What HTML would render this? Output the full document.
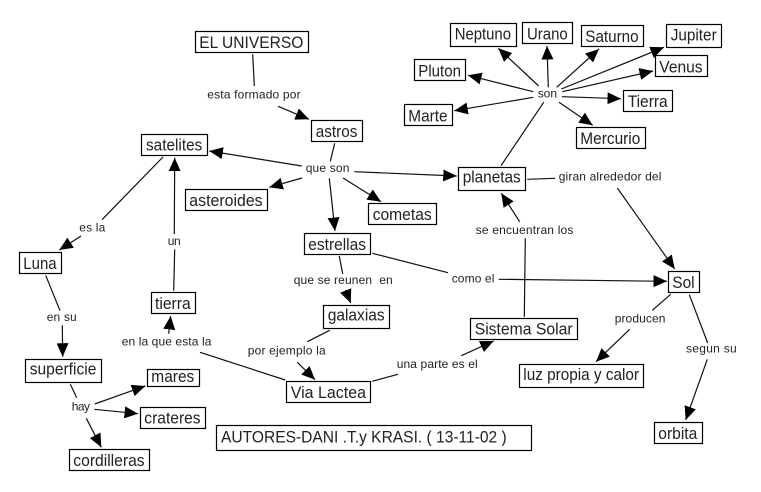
<!DOCTYPE html>
<html><head><meta charset="utf-8"><style>
html,body{margin:0;padding:0;background:#fff}
svg{display:block}
text{font-family:"Liberation Sans",sans-serif}
.b text{font-size:17px;fill:#222}
.l text{font-size:12px;fill:#222}
.r rect{fill:#fff;stroke:#000;stroke-width:1.2}
.c line{stroke:#111;stroke-width:1.2}
.a line{marker-end:url(#h)}
</style></head><body>
<svg width="761" height="492" viewBox="0 0 761 492" xmlns="http://www.w3.org/2000/svg">
<defs><marker id="h" markerUnits="userSpaceOnUse" markerWidth="15" markerHeight="13" refX="13.5" refY="6" orient="auto"><path d="M0 0L13.5 6L0 12Z" fill="#000"/></marker></defs>
<g class="c">
<line x1="252.7" y1="54.3" x2="254.3" y2="86"/>
<line x1="334.7" y1="143.3" x2="330.3" y2="161.3"/>
<line x1="501" y1="165.7" x2="543.7" y2="102.3"/>
<line x1="527.3" y1="179.3" x2="555" y2="178.3"/>
<line x1="163" y1="157" x2="102" y2="219.7"/>
<line x1="173.7" y1="290.7" x2="174.7" y2="249.3"/>
<line x1="45.7" y1="275.3" x2="60" y2="310.7"/>
<line x1="70.3" y1="384.3" x2="76.7" y2="397.7"/>
<line x1="285.3" y1="380" x2="200" y2="352.3"/>
<line x1="339.3" y1="256" x2="342.7" y2="274"/>
<line x1="329.7" y1="330.3" x2="307.3" y2="341.7"/>
<line x1="372.3" y1="381.3" x2="398" y2="374.3"/>
<line x1="372.3" y1="253.3" x2="448" y2="272.7"/>
<line x1="524.3" y1="317" x2="525.3" y2="238.3"/>
<line x1="670.7" y1="294.3" x2="652.3" y2="310.3"/>
<line x1="689.3" y1="294.7" x2="707.7" y2="343"/>
</g>
<g class="c a">
<line x1="278" y1="106.3" x2="309" y2="119.3"/>
<line x1="301.7" y1="166" x2="209.3" y2="151"/>
<line x1="302" y1="178" x2="269.3" y2="187.3"/>
<line x1="354.3" y1="171.7" x2="456.7" y2="176"/>
<line x1="329.3" y1="178.3" x2="335" y2="231"/>
<line x1="343" y1="178" x2="381" y2="201.7"/>
<line x1="538.7" y1="86" x2="498.3" y2="48.3"/>
<line x1="548.3" y1="87.3" x2="547" y2="46"/>
<line x1="556.7" y1="87.3" x2="599" y2="49"/>
<line x1="561.3" y1="89" x2="664" y2="47.3"/>
<line x1="562.3" y1="91.7" x2="653" y2="71"/>
<line x1="562" y1="96.7" x2="621" y2="98.7"/>
<line x1="559" y1="102.3" x2="592.7" y2="125.3"/>
<line x1="533.3" y1="91.7" x2="468" y2="75.3"/>
<line x1="533.3" y1="97.3" x2="454.3" y2="110.7"/>
<line x1="617.3" y1="188" x2="674.7" y2="269"/>
<line x1="81" y1="236" x2="59.3" y2="250"/>
<line x1="174.3" y1="234" x2="174.7" y2="157.7"/>
<line x1="62.3" y1="325.3" x2="62.7" y2="356.7"/>
<line x1="94.7" y1="404" x2="145.3" y2="386"/>
<line x1="94.3" y1="409.3" x2="138" y2="413.7"/>
<line x1="86.3" y1="418.3" x2="101.3" y2="447.3"/>
<line x1="168.7" y1="333.7" x2="170.7" y2="316"/>
<line x1="345.5" y1="290" x2="350.7" y2="303"/>
<line x1="297.3" y1="362.3" x2="315" y2="379.7"/>
<line x1="461.3" y1="355.7" x2="493.7" y2="341"/>
<line x1="498.7" y1="279.3" x2="667" y2="281.3"/>
<line x1="519.7" y1="221.7" x2="501.3" y2="193.3"/>
<line x1="629.7" y1="329.3" x2="596" y2="361.7"/>
<line x1="707.3" y1="359.3" x2="685.7" y2="420"/>
</g>
<g class="r">
<rect x="195.5" y="31.5" width="113" height="21"/>
<rect x="311.5" y="120.5" width="51" height="21"/>
<rect x="414.5" y="59.5" width="51" height="21"/>
<rect x="404.5" y="104.5" width="48" height="21"/>
<rect x="450.5" y="23.5" width="66" height="23"/>
<rect x="522.5" y="22.5" width="50" height="21"/>
<rect x="581.5" y="25.5" width="62" height="21"/>
<rect x="666.5" y="24.5" width="55" height="23"/>
<rect x="655.5" y="55.5" width="52" height="21"/>
<rect x="623.5" y="90.5" width="49" height="21"/>
<rect x="576.5" y="127.5" width="69" height="21"/>
<rect x="458.5" y="167.5" width="67" height="23"/>
<rect x="141.5" y="134.5" width="66" height="21"/>
<rect x="185.5" y="189.5" width="82" height="21"/>
<rect x="368.5" y="203.5" width="68" height="21"/>
<rect x="304.5" y="233.5" width="66" height="21"/>
<rect x="323.5" y="305.5" width="66" height="23"/>
<rect x="286.5" y="381.5" width="84" height="21"/>
<rect x="470.5" y="318.5" width="107" height="21"/>
<rect x="668.5" y="271.5" width="31" height="21"/>
<rect x="519.5" y="364.5" width="124" height="23"/>
<rect x="654.5" y="422.5" width="48" height="21"/>
<rect x="19.5" y="252.5" width="42" height="21"/>
<rect x="151.5" y="292.5" width="44" height="21"/>
<rect x="25.5" y="359.5" width="76" height="23"/>
<rect x="147.5" y="369.5" width="52" height="17"/>
<rect x="140.5" y="407.5" width="65" height="21"/>
<rect x="69.5" y="449.5" width="80" height="21"/>
<rect x="216.5" y="425.5" width="315" height="25"/>
</g>
<g class="b">
<text x="199.3" y="48" textLength="104" lengthAdjust="spacingAndGlyphs">EL UNIVERSO</text>
<text x="315.7" y="137" textLength="41.7" lengthAdjust="spacingAndGlyphs">astros</text>
<text x="418.3" y="76.5" textLength="42.7" lengthAdjust="spacingAndGlyphs">Pluton</text>
<text x="408.3" y="121.3" textLength="39.3" lengthAdjust="spacingAndGlyphs">Marte</text>
<text x="454.7" y="39.3" textLength="56.3" lengthAdjust="spacingAndGlyphs">Neptuno</text>
<text x="527" y="39.3" textLength="40.7" lengthAdjust="spacingAndGlyphs">Urano</text>
<text x="585.3" y="42" textLength="53.3" lengthAdjust="spacingAndGlyphs">Saturno</text>
<text x="670.7" y="40.7" textLength="46" lengthAdjust="spacingAndGlyphs">Jupiter</text>
<text x="659.3" y="72.3" textLength="43.3" lengthAdjust="spacingAndGlyphs">Venus</text>
<text x="627.7" y="107" textLength="40" lengthAdjust="spacingAndGlyphs">Tierra</text>
<text x="580.3" y="144" textLength="60" lengthAdjust="spacingAndGlyphs">Mercurio</text>
<text x="462.7" y="182.7" textLength="58" lengthAdjust="spacingAndGlyphs">planetas</text>
<text x="146" y="150.7" textLength="56.3" lengthAdjust="spacingAndGlyphs">satelites</text>
<text x="189.3" y="206" textLength="73.3" lengthAdjust="spacingAndGlyphs">asteroides</text>
<text x="372.7" y="220" textLength="59" lengthAdjust="spacingAndGlyphs">cometas</text>
<text x="308.3" y="250" textLength="57.7" lengthAdjust="spacingAndGlyphs">estrellas</text>
<text x="327.7" y="320.7" textLength="57" lengthAdjust="spacingAndGlyphs">galaxias</text>
<text x="290.7" y="398" textLength="75.3" lengthAdjust="spacingAndGlyphs">Via Lactea</text>
<text x="474.7" y="334.7" textLength="98" lengthAdjust="spacingAndGlyphs">Sistema Solar</text>
<text x="672.3" y="288" textLength="22.3" lengthAdjust="spacingAndGlyphs">Sol</text>
<text x="523.3" y="380" textLength="115.7" lengthAdjust="spacingAndGlyphs">luz propia y calor</text>
<text x="658.3" y="439" textLength="39" lengthAdjust="spacingAndGlyphs">orbita</text>
<text x="23.3" y="269" textLength="33.3" lengthAdjust="spacingAndGlyphs">Luna</text>
<text x="155" y="309" textLength="35.7" lengthAdjust="spacingAndGlyphs">tierra</text>
<text x="29.7" y="374.7" textLength="66.7" lengthAdjust="spacingAndGlyphs">superficie</text>
<text x="151.3" y="382" textLength="43" lengthAdjust="spacingAndGlyphs">mares</text>
<text x="144.3" y="423.7" textLength="56.3" lengthAdjust="spacingAndGlyphs">crateres</text>
<text x="73.3" y="466" textLength="71.3" lengthAdjust="spacingAndGlyphs">cordilleras</text>
<text x="221" y="442.3" textLength="285.7" lengthAdjust="spacingAndGlyphs">AUTORES-DANI .T.y KRASI. ( 13-11-02 )</text>
</g>
<g class="l">
<text x="207.3" y="98.7" textLength="93.3">esta formado por</text>
<text x="305.7" y="172" textLength="43.7">que son</text>
<text x="537.7" y="97.7" textLength="19.3">son</text>
<text x="558.7" y="180.7" textLength="102.7">giran alrededor del</text>
<text x="79.3" y="231.3" textLength="26">es la</text>
<text x="167.7" y="245" textLength="13">un</text>
<text x="46.7" y="321" textLength="30">en su</text>
<text x="121.7" y="345.7" textLength="89.7">en la que esta la</text>
<text x="71.7" y="410.7" textLength="18.3">hay</text>
<text x="293.7" y="284" textLength="99" xml:space="preserve">que se reunen  en</text>
<text x="247.7" y="354.3" textLength="78">por ejemplo la</text>
<text x="396.7" y="368" textLength="81">una parte es el</text>
<text x="451.7" y="282.7" textLength="42.7">como el</text>
<text x="475.7" y="234" textLength="97.7">se encuentran los</text>
<text x="614.7" y="322.7" textLength="50.7">producen</text>
<text x="686" y="352.7" textLength="50.7">segun su</text>
</g>
</svg>
</body></html>
